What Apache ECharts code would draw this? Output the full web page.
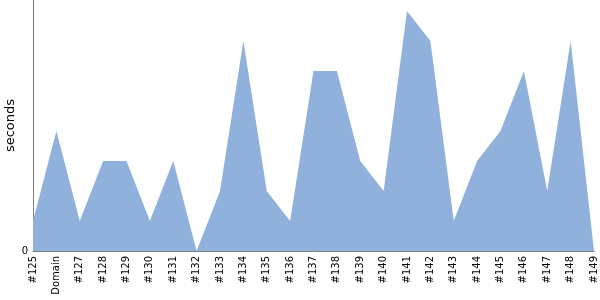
<!DOCTYPE html>
<html><head><meta charset="utf-8">
<script src="https://cdn.jsdelivr.net/npm/echarts@6/dist/echarts.min.js"></script>
<style>html,body{margin:0;padding:0;background:#fff}#c{width:600px;height:300px}</style>
</head><body><div id="c"></div>
<script>
const categories = ['#125','Domain','#127','#128','#129','#130','#131','#132','#133','#134','#135','#136','#137','#138','#139','#140','#141','#142','#143','#144','#145','#146','#147','#148','#149'];
const seconds = [1,4,1,3,3,1,3,0,2,7,2,1,6,6,3,2,8,7,1,3,4,6,2,7,0];
const yMax = 8.37;

const chart = echarts.init(document.getElementById('c'), null, {renderer:'canvas'});
chart.setOption({
  animation:false,
  grid:{left:33,right:6,top:0,bottom:49,containLabel:false,outerBoundsMode:'none'},
  xAxis:{type:'category',data:categories,boundaryGap:false,
    axisLine:{show:true,lineStyle:{color:'#808080',width:1}},
    axisTick:{show:false},
    axisLabel:{rotate:90,fontFamily:'DejaVu Sans',fontSize:10,color:'#000',margin:5,interval:0}},
  yAxis:{type:'value',min:0,max:yMax,interval:yMax,
    name:'seconds',nameLocation:'middle',nameGap:16,nameMoveOverlap:false,
    nameTextStyle:{fontFamily:'DejaVu Sans',fontSize:13,color:'#000'},
    axisLine:{show:true,lineStyle:{color:'#808080',width:1}},
    axisTick:{show:false},splitLine:{show:false},
    axisLabel:{fontFamily:'DejaVu Sans',fontSize:10,color:'#000',margin:5,showMaxLabel:false,
      formatter:v=>v===0?'0':''}},
  series:[{type:'line',data:seconds,symbol:'none',lineStyle:{width:0},
    areaStyle:{color:'#8fb1db',opacity:1}}]
});
</script></body></html>
